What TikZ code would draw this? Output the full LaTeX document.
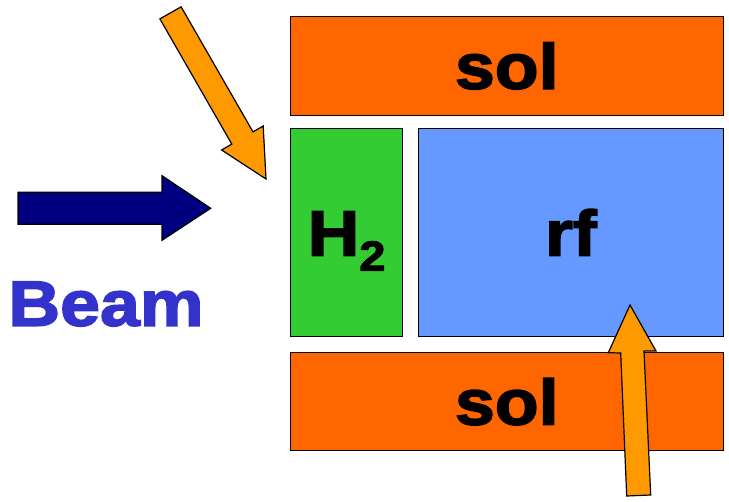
\documentclass[tikz,border=0pt]{standalone}
\usepackage{fontspec}
\newfontfamily\heavyfont{Liberation Sans}[FakeStretch=1.12, BoldFeatures={FakeBold=2.5, FakeStretch=1.12}]
\definecolor{solorange}{RGB}{255,102,0}
\definecolor{hgreen}{RGB}{51,204,51}
\definecolor{rfblue}{RGB}{102,153,255}
\definecolor{beamnavy}{RGB}{0,0,128}
\definecolor{beamtext}{RGB}{51,51,204}
\definecolor{portorange}{RGB}{255,153,0}

\begin{document}
\begin{tikzpicture}[x=1pt, y=-1pt,
    box/.style={rectangle, draw=black, line width=0.8pt, anchor=north west, inner sep=0pt,
      font=\heavyfont\bfseries\fontsize{64}{70}\selectfont, text height=46pt, text depth=0pt},
    fatarrow/.style={draw=black, line width=1.2pt, line join=miter}]
\useasboundingbox (0,0) rectangle (729,502);

% channel: solenoids, absorber and rf cavity
\node [box, fill=solorange, minimum width=432.7pt, minimum height=98.7pt] (solTop) at (290,16) {sol};
\node [box, fill=hgreen, minimum width=112.3pt, minimum height=207.7pt] (h2) at (290,128.3) {H\raisebox{-15pt}{\fontsize{42}{42}\selectfont 2}};
\node [box, fill=rfblue, minimum width=304.4pt, minimum height=207.7pt] (rf) at (418.3,128.3) {rf};
\node [box, fill=solorange, minimum width=432.7pt, minimum height=97.7pt] (solBot) at (290,352.3) {sol};

% incoming beam
\filldraw [fatarrow, fill=beamnavy] (18,192.3) -- (162,192.3) -- (162,175.7) -- (210.7,208.3)
    -- (162,240.3) -- (162,224.3) -- (18,224.3) -- cycle;
\node [anchor=base, inner sep=0pt, text=beamtext, font=\heavyfont\bfseries\fontsize{64}{70}\selectfont] (beam) at (106,325.7) {Beam};

% feed arrows
\filldraw [fatarrow, fill=portorange] (159.9,18.9) -- (181.1,6.8) -- (253.0,131.9) -- (263.2,126.0)
    -- (266,179) -- (221.6,150.0) -- (231.8,144.1) -- cycle;
\filldraw [fatarrow, fill=portorange] (626.7,496) -- (650.7,495) -- (644,351) -- (656,351)
    -- (630,305) -- (608.3,352.7) -- (620.7,353) -- cycle;
\end{tikzpicture}
\end{document}
